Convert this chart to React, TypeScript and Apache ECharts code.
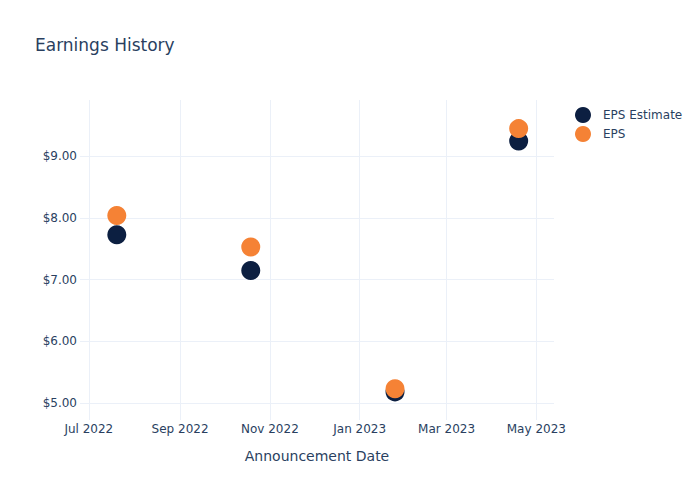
import React, { useEffect, useRef } from "react";
import * as echarts from "echarts";

const announcementDates = ["2022-07-20", "2022-10-19", "2023-01-25", "2023-04-19"];
const epsEstimate = [7.73, 7.15, 5.18, 9.25];
const epsActual = [8.04, 7.53, 5.23, 9.45];
const xTickDates = ["2022-07-01", "2022-09-01", "2022-11-01", "2023-01-01", "2023-03-01", "2023-05-01"];
const yTicks = [5, 6, 7, 8, 9];
const monthNames = ["Jan", "Feb", "Mar", "Apr", "May", "Jun", "Jul", "Aug", "Sep", "Oct", "Nov", "Dec"];

const toTime = (s: string) => {
  const [y, m, d] = s.split("-").map(Number);
  return new Date(y, m - 1, d).getTime();
};

export default function App() {
  const ref = useRef<HTMLDivElement>(null);
  useEffect(() => {
    if (!ref.current) return;
    const chart = echarts.init(ref.current, null, { renderer: "svg" });
    const font = "DejaVu Sans, Verdana, sans-serif";
    const textColor = "#2a3f5f";
    const gridColor = "#ebf0f8";
    const xTicks = xTickDates.map(toTime);
    chart.setOption({
      animation: false,
      backgroundColor: "#ffffff",
      textStyle: { fontFamily: font },
      title: {
        text: "Earnings History",
        left: 30,
        top: 31,
        textStyle: { fontFamily: font, fontSize: 17, fontWeight: "normal", color: textColor },
      },
      legend: {
        left: 570,
        top: 102,
        orient: "vertical",
        itemWidth: 30,
        itemHeight: 16,
        itemGap: 3,
        icon: "circle",
        textStyle: { fontFamily: font, fontSize: 12, color: textColor },
        data: ["EPS Estimate", "EPS"],
      },
      grid: { left: 80, right: 146, top: 100, bottom: 80, containLabel: false },
      xAxis: {
        type: "value",
        min: toTime("2022-06-25"),
        max: toTime("2023-05-13"),
        name: "Announcement Date",
        nameLocation: "middle",
        nameGap: 29,
        nameTextStyle: { fontFamily: font, fontSize: 14, color: textColor },
        axisLine: { show: false },
        axisTick: { show: false, customValues: xTicks },
        axisLabel: {
          customValues: xTicks,
          margin: 3,
          fontFamily: font,
          fontSize: 12,
          color: textColor,
          formatter: (v: number) => {
            const d = new Date(v);
            return monthNames[d.getMonth()] + " " + d.getFullYear();
          },
        },
        splitLine: { show: true, lineStyle: { color: gridColor, width: 1 } },
      },
      yAxis: {
        type: "value",
        min: 4.724,
        max: 9.914,
        axisLine: { show: false },
        axisTick: { show: false, customValues: yTicks },
        axisLabel: {
          customValues: yTicks,
          margin: 3,
          fontFamily: font,
          fontSize: 12,
          color: textColor,
          formatter: (v: number) => "$" + v.toFixed(2),
        },
        splitLine: { show: true, lineStyle: { color: gridColor, width: 1 } },
      },
      series: [
        {
          name: "EPS Estimate",
          type: "scatter",
          symbolSize: 19,
          itemStyle: { color: "#0c1f41", opacity: 1 },
          data: announcementDates.map((d, i) => [toTime(d), epsEstimate[i]]),
        },
        {
          name: "EPS",
          type: "scatter",
          symbolSize: 19,
          itemStyle: { color: "#f58235", opacity: 1 },
          data: announcementDates.map((d, i) => [toTime(d), epsActual[i]]),
        },
      ],
    });
    return () => chart.dispose();
  }, []);
  return <div ref={ref} style={{ width: 700, height: 500, position: "absolute", left: 0, top: 0 }} />;
}
